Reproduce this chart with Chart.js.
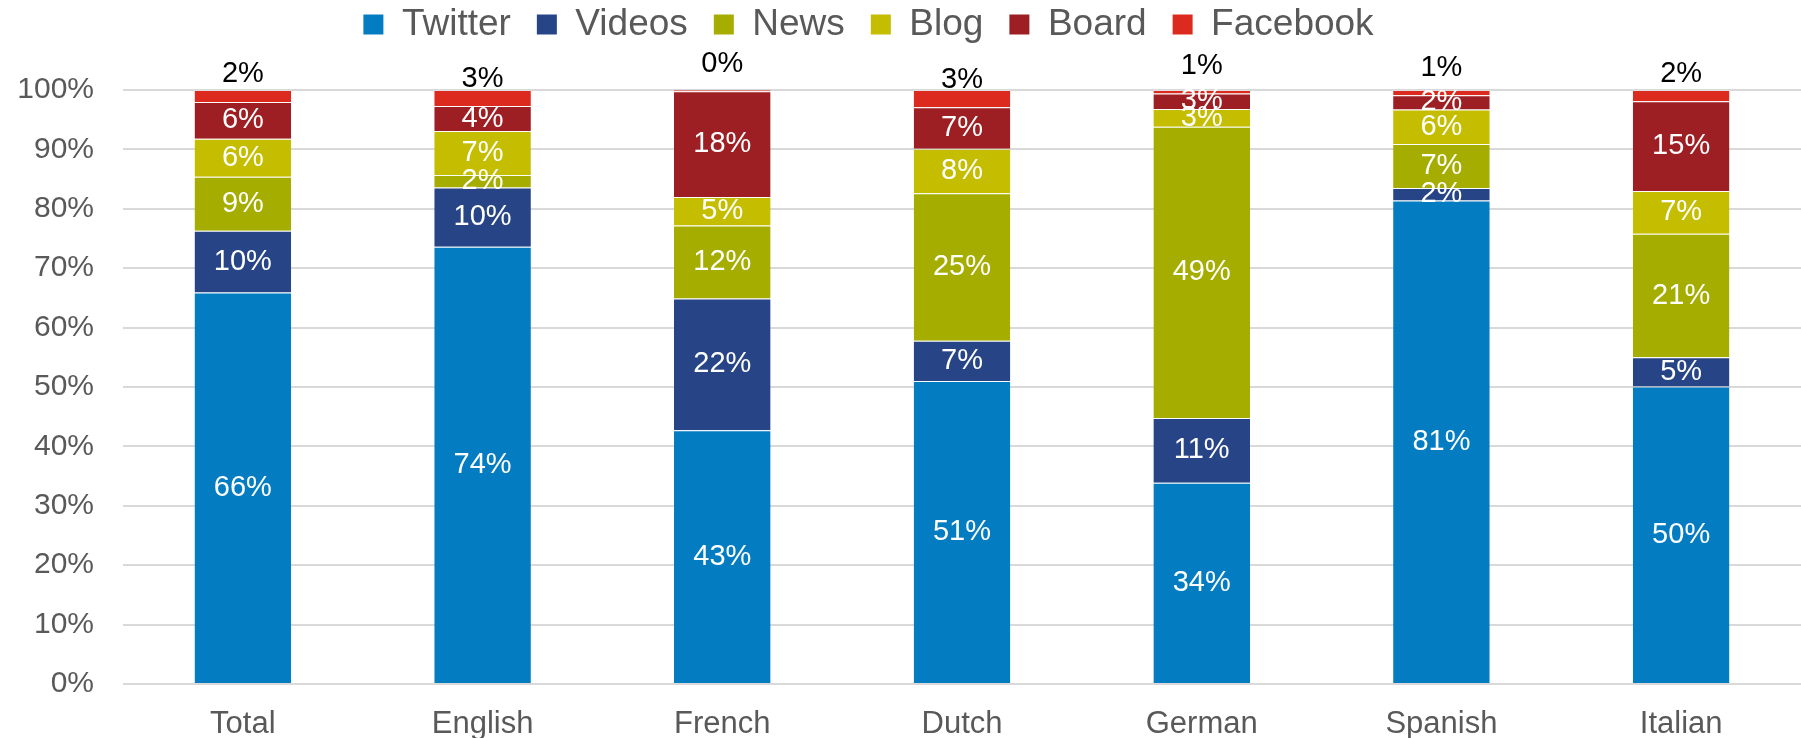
<!DOCTYPE html>
<html>
<head>
<meta charset="utf-8">
<script src="https://cdn.jsdelivr.net/npm/chart.js@4/dist/chart.umd.min.js"></script>
<style>
  html, body { margin: 0; padding: 0; background: #fff; }
  #wrap { width: 1801px; height: 738px; }
</style>
</head>
<body>
<div id="wrap"><canvas id="shareChart"></canvas></div>
<script>
// Categories and series (share of mentions per source, %)
const languages = ['Total', 'English', 'French', 'Dutch', 'German', 'Spanish', 'Italian'];
const twitter  = [65.9, 73.6, 42.7, 51.0, 33.9, 81.4, 50.1];
const videos   = [10.4, 10.0, 22.2,  6.8, 10.9,  2.1,  4.9];
const news     = [ 9.1,  2.1, 12.3, 24.8, 49.0,  7.4, 20.8];
const blog     = [ 6.4,  7.4,  4.8,  7.5,  3.0,  5.8,  7.2];
const board    = [ 6.2,  4.2, 17.8,  7.0,  2.6,  2.4, 15.1];
const facebook = [ 2.0,  2.7,  0.2,  2.9,  0.6,  0.9,  1.9];
const yTicks = [0, 10, 20, 30, 40, 50, 60, 70, 80, 90, 100];

const FONT = "'Liberation Sans', Arial, sans-serif";

// simple in-bar value labels (no datalabels plugin available)
const valueLabels = {
    id: 'valueLabels',
    afterDatasetsDraw(chart) {
        const ctx = chart.ctx;
        ctx.save();
        ctx.font = '29px ' + FONT;
        ctx.textAlign = 'center';
        ctx.textBaseline = 'middle';
        const last = chart.data.datasets.length - 1;
        chart.data.datasets.forEach((ds, i) => {
            const meta = chart.getDatasetMeta(i);
            meta.data.forEach((bar, j) => {
                const txt = Math.round(ds.data[j]) + '%';
                if (i === last) {
                    // top series label sits just above its segment
                    ctx.fillStyle = '#000';
                    ctx.fillText(txt, bar.x, bar.base - 27.5);
                } else {
                    ctx.fillStyle = '#fff';
                    ctx.fillText(txt, bar.x, (bar.y + bar.base) / 2);
                }
            });
        });
        ctx.restore();
    }
};

// legend band height and position like the original
const legendSpace = {
    id: 'legendSpace',
    beforeInit(chart) {
        const fit = chart.legend.fit;
        chart.legend.fit = function() {
            fit.call(this);
            this.height = 90;
        };
    },
    afterLayout(chart) {
        const lg = chart.legend;
        lg.left -= 32; lg.right -= 32;
        lg.top -= 20; lg.bottom -= 20;
    }
};

const sep = 'rgba(255,255,255,0.2)';
const ctx = document.getElementById('shareChart').getContext('2d');
new Chart(ctx, {
    type: 'bar',
    data: {
        labels: languages,
        datasets: [
            { label: 'Twitter',  data: twitter,  backgroundColor: '#037CC2' },
            { label: 'Videos',   data: videos,   backgroundColor: '#264486' },
            { label: 'News',     data: news,     backgroundColor: '#A5AD00' },
            { label: 'Blog',     data: blog,     backgroundColor: '#C5BD00' },
            { label: 'Board',    data: board,    backgroundColor: '#9D1F24' },
            { label: 'Facebook', data: facebook, backgroundColor: '#DD2A1F' }
        ]
    },
    options: {
        responsive: true,
        maintainAspectRatio: false,
        animation: false,
        layout: { padding: 0 },
        datasets: {
            bar: {
                categoryPercentage: 0.403,
                barPercentage: 1,
                borderWidth: { top: 1, left: 0, right: 0, bottom: 0 },
                borderColor: sep,
                borderSkipped: false
            }
        },
        plugins: {
            legend: {
                position: 'top',
                labels: {
                    font: { family: FONT, size: 37 },
                    color: '#595959',
                    boxWidth: 20,
                    boxHeight: 20,
                    padding: 26,
                    generateLabels(chart) {
                        const items = Chart.defaults.plugins.legend.labels.generateLabels(chart);
                        items.forEach(it => { it.lineWidth = 0; });
                        return items;
                    }
                }
            },
            tooltip: { enabled: false }
        },
        scales: {
            x: {
                stacked: true,
                grid: { display: false },
                border: { display: false },
                ticks: {
                    font: { family: FONT, size: 31 },
                    color: '#595959',
                    padding: 14
                },
                afterFit(scale) { scale.height = 54; }
            },
            y: {
                stacked: true,
                min: 0,
                max: 100,
                afterBuildTicks(scale) { scale.ticks = yTicks.map(v => ({ value: v })); },
                grid: { color: '#D9D9D9', lineWidth: 2, drawTicks: false },
                border: { display: false },
                ticks: {
                    font: { family: FONT, size: 30 },
                    color: '#595959',
                    padding: 29,
                    callback: v => v + '%'
                },
                afterFit(scale) { scale.width = 123; }
            }
        }
    },
    plugins: [valueLabels, legendSpace]
});
</script>
</body>
</html>
